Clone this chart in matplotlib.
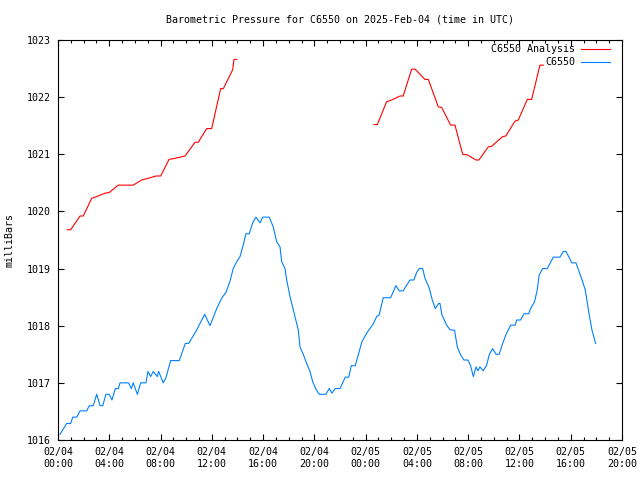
import matplotlib
matplotlib.use("Agg")
import matplotlib.pyplot as plt
import numpy as np
from matplotlib.lines import Line2D
from matplotlib.ticker import MultipleLocator

# hours since 2025-02-04 00:00 UTC
obs_hours = [
    0.16, 0.68, 0.99, 1.15, 1.46, 1.72, 2.24, 2.44, 2.75, 3.02, 3.28, 3.49, 3.74, 4.00,
    4.21, 4.47, 4.70, 4.84, 5.51, 5.72, 5.87, 6.19, 6.45, 6.86, 7.02, 7.23, 7.43, 7.75,
    7.85, 8.21, 8.42, 8.79, 9.46, 9.93, 10.19, 10.76, 11.44, 11.86, 12.38, 12.79, 13.10,
    13.42, 13.67, 13.94, 14.20, 14.45, 14.66, 14.92, 15.19, 15.44, 15.76, 15.97, 16.48,
    16.79, 17.06, 17.32, 17.45, 17.71, 17.84, 18.10, 18.49, 18.74, 18.88, 19.13, 19.40,
    19.66, 19.87, 20.12, 20.38, 20.90, 21.16, 21.37, 21.63, 22.00, 22.41, 22.68, 22.88,
    23.19, 23.46, 23.71, 24.08, 24.59, 24.86, 25.06, 25.37, 25.95, 26.36, 26.62, 26.93,
    27.20, 27.46, 27.77, 27.98, 28.18, 28.45, 28.63, 28.96, 29.20, 29.43, 29.70, 29.80,
    29.95, 30.32, 30.58, 30.94, 31.15, 31.41, 31.67, 31.98, 32.19, 32.40, 32.61, 32.76,
    32.92, 33.17, 33.44, 33.64, 33.91, 34.17, 34.42, 34.69, 34.94, 35.31, 35.67, 35.78,
    36.09, 36.35, 36.72, 36.87, 37.18, 37.39, 37.54, 37.81, 38.17, 38.64, 39.16, 39.42,
    39.63, 40.09, 40.41, 40.87, 41.13, 41.40, 41.65, 41.94,
]
obs_mb = [
    1016.10, 1016.29, 1016.29, 1016.40, 1016.40, 1016.51, 1016.51, 1016.60, 1016.60,
    1016.80, 1016.60, 1016.60, 1016.80, 1016.80, 1016.70, 1016.90, 1016.90, 1017.00,
    1017.00, 1016.90, 1017.00, 1016.80, 1017.00, 1017.00, 1017.20, 1017.11, 1017.20,
    1017.11, 1017.20, 1017.00, 1017.09, 1017.39, 1017.39, 1017.69, 1017.69, 1017.90,
    1018.20, 1018.00, 1018.30, 1018.49, 1018.58, 1018.78, 1019.00, 1019.12, 1019.21,
    1019.41, 1019.61, 1019.61, 1019.80, 1019.90, 1019.80, 1019.90, 1019.90, 1019.73,
    1019.47, 1019.38, 1019.12, 1019.00, 1018.80, 1018.51, 1018.16, 1017.93, 1017.63,
    1017.50, 1017.34, 1017.20, 1017.02, 1016.89, 1016.80, 1016.80, 1016.90, 1016.82,
    1016.90, 1016.90, 1017.10, 1017.10, 1017.30, 1017.30, 1017.52, 1017.72, 1017.87,
    1018.03, 1018.16, 1018.19, 1018.49, 1018.49, 1018.70, 1018.61, 1018.61, 1018.71,
    1018.80, 1018.80, 1018.93, 1019.00, 1019.00, 1018.83, 1018.66, 1018.45, 1018.30,
    1018.39, 1018.39, 1018.19, 1018.01, 1017.93, 1017.92, 1017.63, 1017.49, 1017.40,
    1017.40, 1017.30, 1017.11, 1017.28, 1017.21, 1017.28, 1017.21, 1017.31, 1017.49,
    1017.60, 1017.50, 1017.50, 1017.69, 1017.84, 1018.01, 1018.01, 1018.10, 1018.10,
    1018.21, 1018.21, 1018.30, 1018.42, 1018.63, 1018.89, 1019.00, 1019.00, 1019.20,
    1019.20, 1019.30, 1019.30, 1019.10, 1019.10, 1018.81, 1018.63, 1018.25, 1017.93,
    1017.69,
]

# analysis series, nan marks the gap
ana_hours = [
    0.73, 0.99, 1.72, 1.97, 2.63, 3.02, 3.67, 4.00, 4.70, 5.87, 6.53, 7.04, 7.64, 8.01,
    8.66, 9.13, 9.91, 10.69, 10.94, 11.60, 11.99, 12.69, 12.90, 13.63, 13.73, 13.94,
    np.nan,
    24.65, 24.91, 25.64, 26.03, 26.68, 26.93, 27.59, 27.85, 28.63, 28.89, 29.67, 29.93,
    30.63, 30.97, 31.57, 31.93, 32.61, 32.84, 33.57, 33.83, 34.69, 34.94, 35.65, 35.91,
    36.61, 36.95, 37.60, 37.86,
]
ana_mb = [
    1019.68, 1019.68, 1019.92, 1019.92, 1020.23, 1020.26, 1020.32, 1020.33, 1020.46,
    1020.46, 1020.55, 1020.58, 1020.62, 1020.62, 1020.91, 1020.93, 1020.97, 1021.21,
    1021.21, 1021.45, 1021.45, 1022.15, 1022.15, 1022.48, 1022.66, 1022.66,
    np.nan,
    1021.52, 1021.52, 1021.92, 1021.95, 1022.02, 1022.02, 1022.49, 1022.49, 1022.31,
    1022.31, 1021.83, 1021.82, 1021.51, 1021.51, 1021.00, 1020.99, 1020.90, 1020.90,
    1021.13, 1021.14, 1021.31, 1021.32, 1021.58, 1021.60, 1021.96, 1021.96, 1022.56,
    1022.56,
]

tick_hours = [0, 4, 8, 12, 16, 20, 24, 28, 32, 36, 40, 44]
tick_labels = ["02/04\n00:00", "02/04\n04:00", "02/04\n08:00", "02/04\n12:00",
               "02/04\n16:00", "02/04\n20:00", "02/05\n00:00", "02/05\n04:00",
               "02/05\n08:00", "02/05\n12:00", "02/05\n16:00", "02/05\n20:00"]
series_names = ["C6550 Analysis", "C6550"]
series_colors = ["#ff0000", "#0080ff"]

plt.rcParams["font.family"] = ["DejaVu Sans Mono"]
plt.rcParams["font.size"] = 7.2

fig = plt.figure(figsize=(6.4, 4.8), dpi=100)
ax = fig.add_axes([58 / 640, 40 / 480, 564 / 640, 400 / 480])

ax.plot(ana_hours, ana_mb, color=series_colors[0], lw=0.8)
ax.plot(obs_hours, obs_mb, color=series_colors[1], lw=0.8)

ax.set_xlim(0, 44)
ax.set_ylim(1016, 1023)
ax.set_xticks(tick_hours)
ax.set_xticklabels(tick_labels, linespacing=1.2)
ax.xaxis.set_minor_locator(MultipleLocator(1))
ax.set_yticks(range(1016, 1024))

ax.tick_params(which="both", direction="in", top=True, right=True, width=0.8)
ax.tick_params(which="major", length=4)
ax.tick_params(which="minor", length=2.2)
ax.tick_params(axis="x", pad=5)
ax.tick_params(axis="y", pad=5)
for sp in ax.spines.values():
    sp.set_linewidth(0.8)

fig.text(340 / 640, 1 - 19 / 480, "Barometric Pressure for C6550 on 2025-Feb-04 (time in UTC)",
         ha="center", va="center")
fig.text(10 / 640, 0.5, "milliBars", rotation=90, ha="center", va="center")

# key in the top right corner
for i, (name, col) in enumerate(zip(series_names, series_colors)):
    y = 1 - (49 + 13 * i) / 480
    fig.text(575 / 640, y, name, ha="right", va="center")
    fig.add_artist(Line2D([581 / 640, 610 / 640], [y, y], color=col, lw=0.8,
                          transform=fig.transFigure))

fig.savefig("out.png", dpi=100)
